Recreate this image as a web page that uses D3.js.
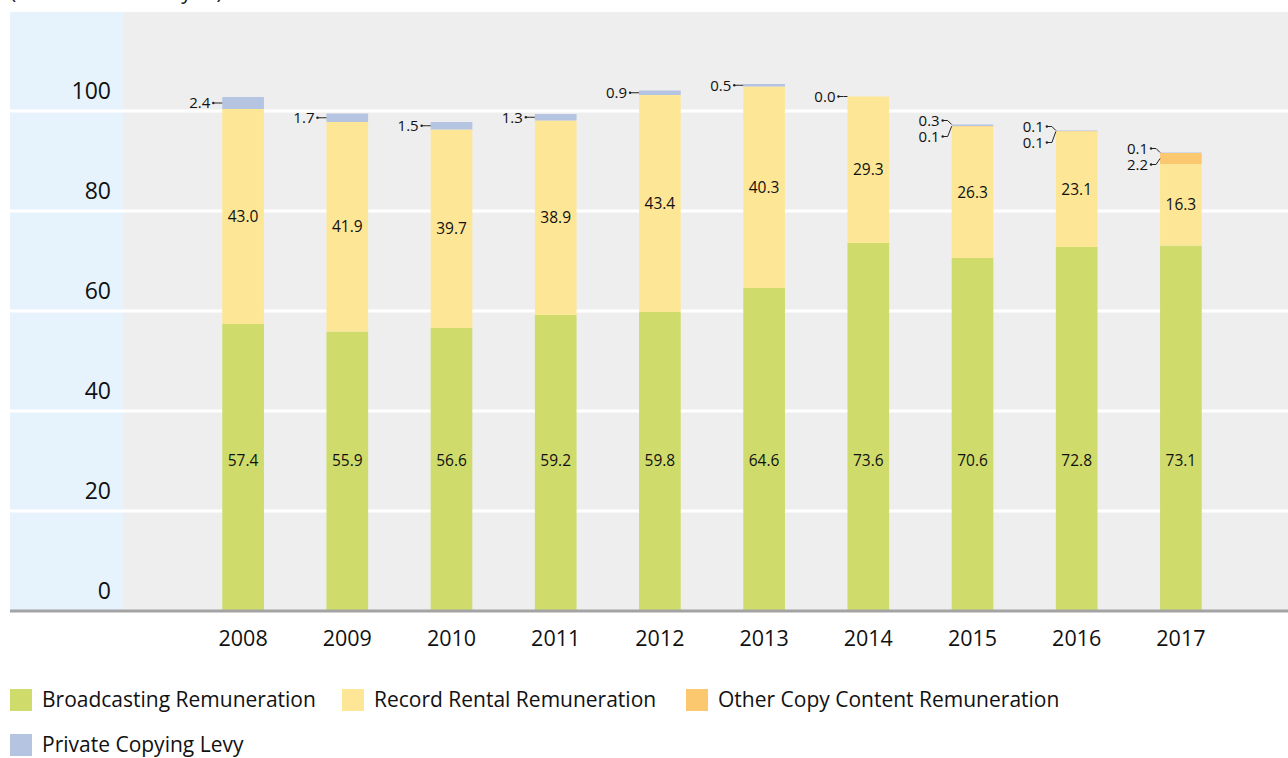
<!DOCTYPE html>
<html>
<head>
<meta charset="utf-8">
<script src="https://cdn.jsdelivr.net/npm/d3@7"></script>
<style>
  body { margin: 0; background: #fff; }
  svg { display: block; font-family: "Open Sans", "Noto Sans", sans-serif; }
</style>
</head>
<body>
<div id="chart"></div>
<script>
const years = ["2008", "2009", "2010", "2011", "2012", "2013", "2014", "2015", "2016", "2017"];
const broadcasting = [57.4, 55.9, 56.6, 59.2, 59.8, 64.6, 73.6, 70.6, 72.8, 73.1];
const recordRental = [43.0, 41.9, 39.7, 38.9, 43.4, 40.3, 29.3, 26.3, 23.1, 16.3];
const otherCopy = [0, 0, 0, 0, 0, 0, 0, 0.1, 0.1, 2.2];
const privateCopying = [2.4, 1.7, 1.5, 1.3, 0.9, 0.5, 0.0, 0.3, 0.1, 0.1];
const yTicks = [0, 20, 40, 60, 80, 100];

const seriesNames = ["Broadcasting Remuneration", "Record Rental Remuneration", "Other Copy Content Remuneration", "Private Copying Levy"];
const colors = ["#cfdc6c", "#fde796", "#fbc870", "#b4c4e1"];

const width = 1288, height = 758;
const plotLeft = 10, panelRight = 123, plotTop = 12, plotBottom = 611;

const svg = d3.select("#chart").append("svg")
  .attr("width", width)
  .attr("height", height);

const table = years.map((yr, i) => ({
  year: yr,
  broadcasting: broadcasting[i],
  recordRental: recordRental[i],
  otherCopy: otherCopy[i],
  privateCopying: privateCopying[i]
}));
const keys = ["broadcasting", "recordRental", "otherCopy", "privateCopying"];
const stacked = d3.stack().keys(keys)(table);

const x = d3.scaleBand()
  .domain(years)
  .range([191, 1233])
  .paddingInner(0.6)
  .paddingOuter(0.3);

const y = d3.scaleLinear()
  .domain([0, 120])
  .range([plotBottom, plotBottom - 600]);

// backgrounds
svg.append("rect")
  .attr("x", plotLeft).attr("y", plotTop)
  .attr("width", panelRight - plotLeft).attr("height", plotBottom - plotTop)
  .attr("fill", "#e6f3fc");
svg.append("rect")
  .attr("x", panelRight).attr("y", plotTop)
  .attr("width", width - panelRight).attr("height", plotBottom - plotTop)
  .attr("fill", "#eeeeee");

// unit caption (cut off at top in the original)
svg.append("text")
  .attr("x", 10).attr("y", -1)
  .attr("font-size", 21)
  .attr("fill", "#222")
  .text("(Unit: 100 million yen)");

// gridlines
svg.append("g")
  .selectAll("line")
  .data(yTicks.filter(d => d > 0))
  .join("line")
  .attr("x1", plotLeft).attr("x2", width)
  .attr("y1", d => y(d)).attr("y2", d => y(d))
  .attr("stroke", "#fff").attr("stroke-width", 3);

// y tick labels sit above their gridlines
svg.append("g")
  .selectAll("text")
  .data(yTicks)
  .join("text")
  .attr("x", 111)
  .attr("y", d => y(d) - 12)
  .attr("text-anchor", "end")
  .attr("font-size", 23)
  .attr("fill", "#111")
  .text(d => d);

// bars
const layers = svg.append("g")
  .selectAll("g")
  .data(stacked)
  .join("g")
  .attr("fill", (d, i) => colors[i]);

layers.selectAll("rect")
  .data(d => d)
  .join("rect")
  .attr("x", d => x(d.data.year))
  .attr("y", d => y(d[1]))
  .attr("width", x.bandwidth())
  .attr("height", d => y(d[0]) - y(d[1]));

// axis line
svg.append("line")
  .attr("x1", plotLeft).attr("x2", width)
  .attr("y1", plotBottom).attr("y2", plotBottom)
  .attr("stroke", "#a3a3a3").attr("stroke-width", 3);

// x axis labels
const xAxis = svg.append("g")
  .attr("transform", `translate(0,${plotBottom})`)
  .call(d3.axisBottom(x).tickSize(0).tickPadding(20));
xAxis.select(".domain").remove();
xAxis.selectAll("text")
  .attr("font-size", 21.5)
  .attr("font-family", "\"Open Sans\", \"Noto Sans\", sans-serif")
  .attr("fill", "#111");

// value labels inside the bars
const cx = d => x(d) + x.bandwidth() / 2;
svg.append("g")
  .selectAll("text")
  .data(table)
  .join("text")
  .attr("x", d => cx(d.year))
  .attr("y", y(30))
  .attr("dy", "0.35em")
  .attr("text-anchor", "middle")
  .attr("font-size", 15.5)
  .attr("fill", "#111")
  .text(d => d.broadcasting.toFixed(1));

svg.append("g")
  .selectAll("text")
  .data(stacked[1])
  .join("text")
  .attr("x", d => cx(d.data.year))
  .attr("y", d => (y(d[0]) + y(d[1])) / 2)
  .attr("dy", "0.35em")
  .attr("text-anchor", "middle")
  .attr("font-size", 15.5)
  .attr("fill", "#111")
  .text(d => d.data.recordRental.toFixed(1));

// callout labels for thin segments, left of each bar
const callouts = [];
table.forEach((d, i) => {
  const top = stacked[3][i][1];
  const left = x(d.year);
  if (d.otherCopy > 0) {
    const otherMid = (y(stacked[2][i][0]) + y(stacked[2][i][1])) / 2;
    callouts.push({ left, ty: y(top) - 4, py: y(top), v: d.privateCopying });
    callouts.push({ left, ty: y(top) + 12, py: Math.max(otherMid, y(top) + 1), v: d.otherCopy });
  } else {
    const mid = (y(stacked[3][i][0]) + y(stacked[3][i][1])) / 2;
    callouts.push({ left, ty: mid, py: mid, v: d.privateCopying });
  }
});

const co = svg.append("g");
co.selectAll("polyline")
  .data(callouts)
  .join("polyline")
  .attr("points", d => `${d.left - 9},${d.ty} ${d.left - 4},${d.ty} ${d.left},${d.py}`)
  .attr("fill", "none")
  .attr("stroke", "#222")
  .attr("stroke-width", 1);
co.selectAll("circle")
  .data(callouts)
  .join("circle")
  .attr("cx", d => d.left - 9).attr("cy", d => d.ty).attr("r", 1.2)
  .attr("fill", "#222");
co.selectAll("text")
  .data(callouts)
  .join("text")
  .attr("x", d => d.left - 12)
  .attr("y", d => d.ty)
  .attr("dy", "0.35em")
  .attr("text-anchor", "end")
  .attr("font-size", 15)
  .attr("fill", "#111")
  .text(d => d.v.toFixed(1));

// legend
const legendPos = [[10, 689], [342, 689], [686, 689], [10, 734]];
const legend = svg.append("g")
  .selectAll("g")
  .data(seriesNames)
  .join("g")
  .attr("transform", (d, i) => `translate(${legendPos[i][0]},${legendPos[i][1]})`);
legend.append("rect")
  .attr("width", 22).attr("height", 22)
  .attr("fill", (d, i) => colors[i]);
legend.append("text")
  .attr("x", 32).attr("y", 11)
  .attr("dy", "0.35em")
  .attr("font-size", 21)
  .attr("fill", "#111")
  .text(d => d);
</script>
</body>
</html>
